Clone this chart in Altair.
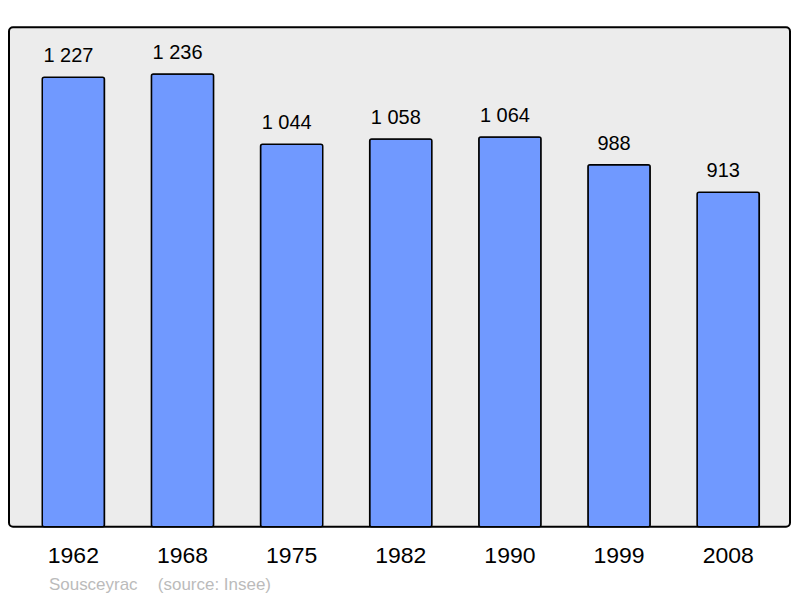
import altair as alt
import pandas as pd

years = ["1962", "1968", "1975", "1982", "1990", "1999", "2008"]
population = [1227, 1236, 1044, 1058, 1064, 988, 913]
labels = ["1 227", "1 236", "1 044", "1 058", "1 064", "988", "913"]
commune = "Sousceyrac"
source = "(source: Insee)"

df = pd.DataFrame({"year": years, "pop": population, "label": labels})

FONT = "Liberation Sans"

x = alt.X("year:N", sort=years,
          scale=alt.Scale(paddingInner=0.43, paddingOuter=0.293, align=0.52,
                          round=False),
          axis=alt.Axis(title=None, domain=False, ticks=False, tickSize=0,
                        grid=False, labelAngle=0, labelFontSize=23,
                        labelFont=FONT, labelColor="#000000",
                        labelPadding=18, labelBaseline="top"))
y = alt.Y("pop:Q", scale=alt.Scale(domain=[0, 1363], nice=False, zero=True),
          axis=None)

bars = alt.Chart(df).mark_bar(
    color="#7099ff", stroke="#000000", strokeWidth=1.5, cornerRadius=2
).encode(x=x, y=y)

text = alt.Chart(df).mark_text(
    baseline="alphabetic", dx=-5, dy=-15, fontSize=20, font=FONT, color="#000000"
).encode(x=x, y=y, text="label:N")

note1 = alt.Chart(pd.DataFrame({"t": [commune]})).mark_text(
    align="left", baseline="alphabetic", fontSize=17, font=FONT, color="#bbbbbb"
).encode(x=alt.value(40), y=alt.value(563), text="t:N")

note2 = alt.Chart(pd.DataFrame({"t": [source]})).mark_text(
    align="left", baseline="alphabetic", fontSize=17, font=FONT, color="#bbbbbb"
).encode(x=alt.value(149), y=alt.value(563), text="t:N")

chart = alt.layer(bars, text, note1, note2).properties(
    width=782, height=500,
    autosize=alt.AutoSizeParams(type="none"),
    padding={"left": 1, "top": 19, "right": 2, "bottom": 70},
).configure_view(
    fill="#ececec", stroke="#000000", strokeWidth=2, cornerRadius=4
)

chart.save("out.html", embed_options={"renderer": "svg", "actions": False})
